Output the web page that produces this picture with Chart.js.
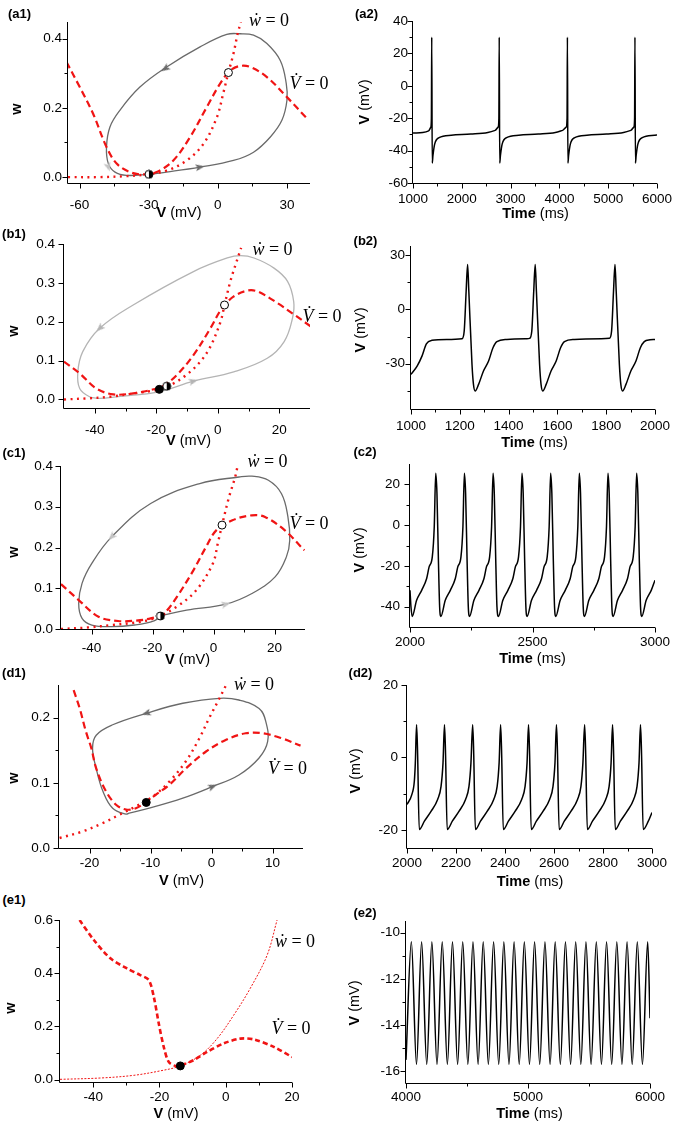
<!DOCTYPE html>
<html>
<head>
<meta charset="utf-8">
<script src="https://cdn.jsdelivr.net/npm/chart.js@4.4.0/dist/chart.umd.min.js"></script>
<style>
  body { margin: 0; background: #fff; }
  #fig { position: relative; width: 675px; height: 1125px; overflow: hidden; font-family: "Liberation Sans", Arial, sans-serif; }
  #fig canvas { position: absolute; }
  .t { position: absolute; white-space: nowrap; line-height: 1; color: #000; }
  .pl { font-size: 13px; font-weight: bold; }
  .ax { font-size: 14.5px; }
  .eq { font-family: "Liberation Serif", "DejaVu Serif", serif; font-size: 18px; }
</style>
</head>
<body>
<div id="fig"></div>
<script>
// ---------- data ----------

// (a1) phase plane
const a1CycV = [-29.9, -22.2, -7.7, 6.8, 15.5, 22.8, 27.8, 30.0, 29.7, 27.1, 21.3, 15.5, 9.7, 3.9, -7.7, -22.2, -33.8, -42.5, -46.8, -48.3, -47.5, -44.6, -39.6, -29.9];
const a1CycW = [0.008, 0.0145, 0.029, 0.048, 0.072, 0.116, 0.164, 0.222, 0.27, 0.337, 0.386, 0.41, 0.414, 0.412, 0.376, 0.318, 0.26, 0.193, 0.145, 0.087, 0.039, 0.0145, 0.005, 0.008];
const a1VnV = [-65.7, -59.9, -54.1, -48.3, -43.9, -38.1, -32.3, -26.5, -19.3, -12.0, -4.8, 1.0, 5.4, 9.7, 14.1, 21.3, 30.0, 38.7];
const a1VnW = [0.333, 0.26, 0.183, 0.087, 0.039, 0.0145, 0.0077, 0.0145, 0.048, 0.116, 0.202, 0.27, 0.308, 0.321, 0.318, 0.289, 0.231, 0.169];
const a1WnV = [-65, -51.2, -39.6, -30.9, -22.2, -13.5, -6.2, -0.4, 2.5, 4.6, 6.8, 8.6, 10.0];
const a1WnW = [0, 0, 0.003, 0.0077, 0.019, 0.048, 0.096, 0.173, 0.246, 0.302, 0.357, 0.414, 0.448];

// (a2) voltage trace
const a2T = [1000, 1200, 1320, 1365, 1377, 1384, 1394, 1409, 1444, 1534, 1784, 2184, 2534, 2684, 2744, 2760, 2767, 2777, 2792, 2827, 2917, 3167, 3567, 3917, 4067, 4139, 4157, 4164, 4174, 4189, 4224, 4314, 4564, 4964, 5314, 5464, 5525, 5541, 5548, 5558, 5573, 5608, 5698, 5948, 6000];
const a2V = [-29.2, -28.8, -27.8, -25.5, -20, 30, -47.7, -43, -36, -32, -30.5, -29.8, -28.8, -27.5, -25.5, -20, 30, -47.7, -43, -36, -32, -30.5, -29.8, -28.8, -27.5, -25.5, -20, 30, -47.7, -43, -36, -32, -30.5, -29.8, -28.8, -27.5, -25.5, -20, 30, -47.7, -43, -36, -32, -30.5, -30.3];

// (b1)
const b1CycV = [-38.4, -27.5, -18.8, -7.9, 5.2, 16.1, 21.6, 24.3, 24.7, 22.7, 18.3, 11.8, 7.4, 3.1, -7.9, -27.5, -38.4, -43.9, -45.5, -44.9, -41.7, -38.4];
const b1CycW = [0.0026, 0.011, 0.020, 0.047, 0.071, 0.106, 0.149, 0.209, 0.252, 0.304, 0.338, 0.364, 0.37, 0.364, 0.329, 0.243, 0.183, 0.123, 0.071, 0.028, 0.007, 0.0026];
const b1VnV = [-50, -44.9, -39.5, -34.0, -27.5, -22.0, -17.7, -13.3, -7.9, -2.4, 1.4, 5.2, 9.6, 12.9, 19.4, 24.9, 30.3];
const b1VnW = [0.097, 0.067, 0.028, 0.013, 0.0155, 0.024, 0.035, 0.063, 0.114, 0.183, 0.235, 0.265, 0.280, 0.278, 0.248, 0.218, 0.1875];
const b1WnV = [-50, -42.8, -35.1, -27.5, -19.0, -14.4, -10.0, -5.7, -2.4, 0.9, 2.2, 4.1, 5.8, 7.6];
const b1WnW = [0, 0.0026, 0.0069, 0.0155, 0.026, 0.041, 0.0645, 0.097, 0.136, 0.2, 0.243, 0.304, 0.347, 0.39];

// (b2)
const b2T = [1000, 1025, 1045, 1063, 1086, 1147, 1209, 1218, 1226, 1232, 1237, 1250, 1256, 1263, 1277, 1297, 1318, 1336, 1352, 1393, 1475, 1486, 1495, 1503, 1509, 1514, 1527, 1533, 1540, 1554, 1574, 1595, 1613, 1629, 1670, 1780, 1813, 1822, 1830, 1836, 1841, 1854, 1860, 1867, 1881, 1901, 1922, 1940, 1956, 1980, 2000];
const b2V = [-35.9, -31.3, -25.8, -19.0, -17.1, -16.6, -16.2, -12.0, 10, 24.8, 10, -30.4, -41.4, -45, -41.4, -34, -28.5, -21.2, -17.8, -16.6, -16.2, -16, -12, 10, 24.8, 10, -30.4, -41.4, -45, -41.4, -34, -28.5, -21.2, -17.8, -16.6, -16.2, -16, -12, 10, 24.8, 10, -30.4, -41.4, -45, -41.4, -34, -28.5, -21.2, -17.8, -16.8, -16.6];

// (c1)
const c1CycV = [-17.4, -8.8, 4.1, 12.6, 20.2, 23.9, 25.0, 24.4, 22.3, 18.0, 12.6, 8.4, -4.5, -20.6, -33.4, -39.9, -43.1, -44.2, -43.1, -39.9, -33.4, -25.9, -19.5, -17.4];
const c1CycW = [0.032, 0.0465, 0.061, 0.087, 0.128, 0.177, 0.218, 0.275, 0.332, 0.365, 0.375, 0.373, 0.357, 0.308, 0.226, 0.161, 0.112, 0.063, 0.026, 0.0098, 0.0057, 0.0098, 0.020, 0.032];
const c1VnV = [-50, -44.2, -37.7, -31.3, -25.9, -20.6, -16.3, -12.0, -6.6, -2.4, 0.9, 6.2, 12.6, 16.9, 23.4, 29.8];
const c1VnW = [0.11, 0.071, 0.030, 0.0196, 0.0204, 0.026, 0.038, 0.079, 0.144, 0.202, 0.242, 0.267, 0.279, 0.275, 0.242, 0.193];
const c1WnV = [-50, -40.9, -33.4, -25.9, -19.5, -12.0, -5.6, -0.2, 1.4, 2.8, 5.1, 7.1, 7.9];
const c1WnW = [0, 0.004, 0.0098, 0.0155, 0.026, 0.055, 0.0955, 0.161, 0.21, 0.255, 0.324, 0.373, 0.40];

// (c2)
const c2T = [2000, 2004,
  2009, 2027, 2048, 2068, 2078, 2091, 2099, 2105, 2110, 2116, 2121,
  2126, 2144, 2165, 2185, 2195, 2208, 2216, 2222, 2227, 2233, 2238,
  2243, 2261, 2282, 2302, 2312, 2325, 2333, 2339, 2344, 2350, 2355,
  2361, 2379, 2400, 2420, 2430, 2443, 2451, 2457, 2462, 2468, 2473,
  2478, 2496, 2517, 2537, 2547, 2560, 2568, 2574, 2579, 2585, 2590,
  2595, 2613, 2634, 2654, 2664, 2677, 2685, 2691, 2696, 2702, 2707,
  2712, 2730, 2751, 2771, 2781, 2794, 2802, 2808, 2813, 2819, 2824,
  2829, 2847, 2868, 2888, 2898, 2911, 2919, 2925, 2930, 2936, 2941,
  2946, 2964, 2985, 3000];
const c2V = [-32, -40.2,
  -44.8, -36.9, -31.9, -26.2, -20.5, -15.6, -0.8, 25.4, 15.6, -17.2, -40.2,
  -44.8, -36.9, -31.9, -26.2, -20.5, -15.6, -0.8, 25.4, 15.6, -17.2, -40.2,
  -44.8, -36.9, -31.9, -26.2, -20.5, -15.6, -0.8, 25.4, 15.6, -17.2, -40.2,
  -44.8, -36.9, -31.9, -26.2, -20.5, -15.6, -0.8, 25.4, 15.6, -17.2, -40.2,
  -44.8, -36.9, -31.9, -26.2, -20.5, -15.6, -0.8, 25.4, 15.6, -17.2, -40.2,
  -44.8, -36.9, -31.9, -26.2, -20.5, -15.6, -0.8, 25.4, 15.6, -17.2, -40.2,
  -44.8, -36.9, -31.9, -26.2, -20.5, -15.6, -0.8, 25.4, 15.6, -17.2, -40.2,
  -44.8, -36.9, -31.9, -26.2, -20.5, -15.6, -0.8, 25.4, 15.6, -17.2, -40.2,
  -44.8, -36.9, -31.9, -27];

// (d1)
const d1CycV = [-13.5, -10.2, -4.7, 0.2, 4.5, 7.8, 9.2, 8.9, 7.8, 4.5, 1.3, -4.7, -10.7, -16.2, -18.9, -19.5, -18.9, -17.8, -16.2, -14.0, -13.5];
const d1CycW = [0.0536, 0.0612, 0.0765, 0.0944, 0.112, 0.138, 0.163, 0.194, 0.214, 0.227, 0.2296, 0.222, 0.2066, 0.189, 0.173, 0.153, 0.122, 0.087, 0.061, 0.052, 0.0536];
const d1VnV = [-22.6, -21.6, -20.6, -19.7, -18.9, -17.3, -15.6, -14.0, -12.4, -10.7, -9.1, -6.9, -4.2, -0.9, 2.4, 5.6, 8.4, 11.6, 14.6];
const d1VnW = [0.242, 0.214, 0.179, 0.153, 0.122, 0.087, 0.066, 0.059, 0.061, 0.071, 0.082, 0.097, 0.122, 0.148, 0.166, 0.176, 0.176, 0.168, 0.157];
const d1WnV = [-24.9, -21.1, -17.8, -15.1, -12.4, -9.6, -6.9, -4.2, -2.0, -0.4, 1.0, 2.4];
const d1WnW = [0.0153, 0.0255, 0.0383, 0.051, 0.0638, 0.079, 0.102, 0.133, 0.168, 0.199, 0.224, 0.25];

// (d2)
const d2T = [2000, 2020, 2030, 2034,
  2039, 2043, 2050, 2071, 2098, 2125, 2139, 2147,
  2153, 2157, 2164, 2185, 2212, 2239, 2253, 2261,
  2268, 2272, 2279, 2300, 2327, 2354, 2368, 2376,
  2382, 2386, 2393, 2414, 2441, 2468, 2482, 2490,
  2496, 2500, 2507, 2528, 2555, 2582, 2596, 2604,
  2610, 2614, 2621, 2642, 2669, 2696, 2710, 2718,
  2725, 2729, 2736, 2757, 2784, 2811, 2825, 2833,
  2839, 2843, 2850, 2871, 2898, 2925, 2939, 2947,
  2953, 2957, 2964, 2985, 3000];
const d2V = [-13, -10.2, -6.5, -1.5,
  9, 2, -19.9, -17.6, -14.9, -11.6, -8.0, -1.5,
  9, 2, -19.9, -17.6, -14.9, -11.6, -8.0, -1.5,
  9, 2, -19.9, -17.6, -14.9, -11.6, -8.0, -1.5,
  9, 2, -19.9, -17.6, -14.9, -11.6, -8.0, -1.5,
  9, 2, -19.9, -17.6, -14.9, -11.6, -8.0, -1.5,
  9, 2, -19.9, -17.6, -14.9, -11.6, -8.0, -1.5,
  9, 2, -19.9, -17.6, -14.9, -11.6, -8.0, -1.5,
  9, 2, -19.9, -17.6, -14.9, -11.6, -8.0, -1.5,
  9, 2, -19.9, -17.6, -15.2];

// (e1)
const e1VnV = [-44.1, -39.8, -34.8, -29.8, -25.8, -23.2, -21.7, -20.2, -18.7, -17.2, -15.2, -13.2, -9.7, -5.6, -0.6, 4.4, 8.5, 14.5, 20.0];
const e1VnW = [0.6, 0.525, 0.456, 0.418, 0.393, 0.374, 0.311, 0.211, 0.123, 0.0665, 0.0515, 0.055, 0.073, 0.104, 0.136, 0.154, 0.151, 0.123, 0.085];
const e1WnV = [-50, -37.8, -27.8, -19.7, -13.7, -7.6, -2.6, 2.4, 7.4, 12.5, 15.5];
const e1WnW = [0.001, 0.006, 0.016, 0.033, 0.0515, 0.092, 0.154, 0.242, 0.343, 0.468, 0.6];

// (e2)
const e2T = [4000, 4044, 4086, 4128, 4170, 4212, 4254, 4297, 4339, 4381, 4423, 4465, 4507, 4549, 4591, 4633, 4675, 4718, 4760, 4802, 4844, 4886, 4928, 4970, 5012, 5054, 5096, 5139, 5181, 5223, 5265, 5307, 5349, 5391, 5433, 5475, 5517, 5560, 5602, 5644, 5686, 5728, 5770, 5812, 5854, 5896, 5938, 5981, 6000];
const e2V = [-15.5, -10.4, -15.7, -10.4, -15.7, -10.4, -15.7, -10.4, -15.7, -10.4, -15.7, -10.4, -15.7, -10.4, -15.7, -10.4, -15.7, -10.4, -15.7, -10.4, -15.7, -10.4, -15.7, -10.4, -15.7, -10.4, -15.7, -10.4, -15.7, -10.4, -15.7, -10.4, -15.7, -10.4, -15.7, -10.4, -15.7, -10.4, -15.7, -10.4, -15.7, -10.4, -15.7, -10.4, -15.7, -10.4, -15.7, -10.4, -13.7];

// fixed points and flow arrows
const a1HalfV = [-29.9], a1HalfW = [0.008], a1OpenV = [4.6], a1OpenW = [0.302];
const a1ArrV = [-22.9, -7.7], a1ArrW = [0.313, 0.029], a1ArrRot = [236, 80];
const a1ArrLV = [-47.5], a1ArrLW = [0.029], a1ArrLRot = [162];
const b1FullV = [-19.0], b1FullW = [0.026], b1HalfV = [-16.6], b1HalfW = [0.034], b1OpenV = [2.2], b1OpenW = [0.243];
const b1ArrV = [-38.4, -7.9], b1ArrW = [0.183, 0.047], b1ArrRot = [227, 75];
const c1HalfV = [-17.4], c1HalfW = [0.032], c1OpenV = [2.8], c1OpenW = [0.255];
const c1ArrV = [-33.4, 4.1], c1ArrW = [0.226, 0.061], c1ArrRot = [225, 76];
const d1FullV = [-10.7], d1FullW = [0.0699];
const d1ArrV = [-10.7, 0.2], d1ArrW = [0.2066, 0.0944], d1ArrRot = [253, 68];
const e1FullV = [-13.7], e1FullW = [0.0515];

// axis ticks
const a1XTicks = [-60, -30, 0, 30], a1XMinor = [-45, -15, 15], a1YTicks = [0, 0.2, 0.4], a1YMinor = [0.1, 0.3];
const a2XTicks = [1000, 2000, 3000, 4000, 5000, 6000], a2XMinor = [1500, 2500, 3500, 4500, 5500];
const a2YTicks = [-60, -40, -20, 0, 20, 40], a2YMinor = [-50, -30, -10, 10, 30];
const b1XTicks = [-40, -20, 0, 20], b1XMinor = [-30, -10, 10], b1YTicks = [0, 0.1, 0.2, 0.3, 0.4], b1YMinor = [];
const b2XTicks = [1000, 1200, 1400, 1600, 1800, 2000], b2XMinor = [1100, 1300, 1500, 1700, 1900];
const b2YTicks = [-30, 0, 30], b2YMinor = [-45, -15, 15];
const c1XTicks = [-40, -20, 0, 20], c1XMinor = [-30, -10, 10], c1YTicks = [0, 0.1, 0.2, 0.3, 0.4], c1YMinor = [];
const c2XTicks = [2000, 2500, 3000], c2XMinor = [2250, 2750], c2YTicks = [-40, -20, 0, 20], c2YMinor = [-30, -10, 10];
const d1XTicks = [-20, -10, 0, 10], d1XMinor = [-15, -5, 5], d1YTicks = [0, 0.1, 0.2], d1YMinor = [0.05, 0.15];
const d2XTicks = [2000, 2200, 2400, 2600, 2800, 3000], d2XMinor = [2100, 2300, 2500, 2700, 2900];
const d2YTicks = [-20, 0, 20], d2YMinor = [-10, 10];
const e1XTicks = [-40, -20, 0, 20], e1XMinor = [-30, -10, 10], e1YTicks = [0, 0.2, 0.4, 0.6], e1YMinor = [0.1, 0.3, 0.5];
const e2XTicks = [4000, 5000, 6000], e2XMinor = [4500, 5500], e2YTicks = [-16, -14, -12, -10], e2YMinor = [-15, -13, -11];

// ---------- drawing ----------
const FONT = "'Liberation Sans', Arial, sans-serif";
const RED = '#f01414';
const DARK = '#6a6a6a', LIGHT = '#b4b4b4', PALE = '#c4c4c4';
const fig = document.getElementById('fig');

const pts = (xs, ys) => xs.map((x, i) => ({ x, y: ys[i] }));

function arrowImg(color) {
  const c = document.createElement('canvas');
  c.width = 7; c.height = 9;
  const g = c.getContext('2d');
  g.fillStyle = color;
  g.beginPath(); g.moveTo(3.5, 0); g.lineTo(7, 9); g.lineTo(3.5, 7); g.lineTo(0, 9); g.closePath(); g.fill();
  return c;
}
function halfDot() {
  const c = document.createElement('canvas');
  c.width = 10; c.height = 10;
  const g = c.getContext('2d');
  g.fillStyle = '#fff'; g.beginPath(); g.arc(5, 5, 4, 0, 2 * Math.PI); g.fill();
  g.fillStyle = '#000'; g.beginPath(); g.arc(5, 5, 4, -Math.PI / 2, Math.PI / 2); g.fill();
  g.strokeStyle = '#000'; g.lineWidth = 1; g.beginPath(); g.arc(5, 5, 4, 0, 2 * Math.PI); g.stroke();
  return c;
}

function curve(xs, ys, color, width, dash, tension) {
  return { data: pts(xs, ys), showLine: true, borderColor: color, borderWidth: width, borderDash: dash,
    pointRadius: 0, tension: tension };
}
const cycle = (xs, ys, color) => curve(xs, ys, color, 1.3, [], 0.4);
const vNull = (xs, ys) => curve(xs, ys, RED, 2.2, [7, 4], 0.35);
const wNull = (xs, ys) => curve(xs, ys, RED, 2.4, [2, 4.5], 0.35);
function trace(xs, ys) {
  return { data: pts(xs, ys), showLine: true, borderColor: '#000', borderWidth: 1.5, pointRadius: 0,
    cubicInterpolationMode: 'monotone' };
}
function dots(xs, ys, fill) {
  return { data: pts(xs, ys), showLine: false, pointRadius: 4, pointStyle: 'circle',
    pointBackgroundColor: fill, pointBorderColor: '#000', pointBorderWidth: 1 };
}
function halfDots(xs, ys) {
  return { data: pts(xs, ys), showLine: false, pointRadius: 4, pointStyle: halfDot() };
}
function arrows(xs, ys, rot, color) {
  return { data: pts(xs, ys), showLine: false, pointRadius: 4, pointStyle: arrowImg(color), pointRotation: rot };
}

function axisOpts(min, max, ticks, dec, pad, horiz, size) {
  return {
    type: 'linear', min, max,
    grid: { display: false, drawTicks: false }, border: { display: false },
    afterBuildTicks: s => { s.ticks = ticks.map(v => ({ value: v })); },
    afterFit: s => {
      if (horiz) s.height = size; else s.width = size;
      s.paddingLeft = s.paddingRight = s.paddingTop = s.paddingBottom = 0;
    },
    ticks: { padding: pad, color: '#000', font: { family: FONT, size: 13.5 }, maxRotation: 0, autoSkip: false,
      callback: v => v.toFixed(dec) }
  };
}

// left + bottom axis lines with outward major/minor ticks
function frame(p) {
  return {
    id: 'frame',
    afterDraw(chart) {
      const { ctx, chartArea: a, scales: { x, y } } = chart;
      const l = a.left - 0.5, b = a.bottom + 0.5;
      ctx.save();
      ctx.strokeStyle = '#000'; ctx.lineWidth = 1;
      ctx.beginPath();
      ctx.moveTo(l, a.top); ctx.lineTo(l, b); ctx.lineTo(a.right, b);
      const tick = (vals, len, horiz) => vals.forEach(v => {
        if (horiz) { const px = Math.round(x.getPixelForValue(v)) + 0.5; ctx.moveTo(px, b); ctx.lineTo(px, b + len); }
        else { const py = Math.round(y.getPixelForValue(v)) + 0.5; ctx.moveTo(l, py); ctx.lineTo(l - len, py); }
      });
      tick(p.xTicks, 5, true); tick(p.xMinor, 3, true);
      tick(p.yTicks, 5, false); tick(p.yMinor, 3, false);
      ctx.stroke();
      ctx.restore();
    }
  };
}

function panel(p) {
  const yw = 50, xh = 30, pt = 10, pr = 18;
  const w = p.R - p.L + yw + pr, h = p.B - p.T + pt + xh;
  const cv = document.createElement('canvas');
  cv.width = w; cv.height = h;
  cv.style.left = (p.L - yw) + 'px'; cv.style.top = (p.T - pt) + 'px';
  cv.style.width = w + 'px'; cv.style.height = h + 'px';
  fig.appendChild(cv);
  new Chart(cv, {
    type: 'scatter',
    data: { datasets: p.sets },
    options: {
      responsive: false, animation: false, devicePixelRatio: 1, events: [],
      layout: { padding: { left: 0, top: pt, right: pr, bottom: 0 } },
      plugins: { legend: { display: false }, tooltip: { enabled: false } },
      scales: {
        x: axisOpts(p.xMin, p.xMax, p.xTicks, p.xDec, p.xPad, true, xh),
        y: axisOpts(p.yMin, p.yMax, p.yTicks, p.yDec, p.yPad, false, yw)
      }
    },
    plugins: [frame(p)]
  });
}

// ---- left column: phase planes ----
panel({ L: 68, T: 22, R: 310, B: 183, xMin: -65, xMax: 40, yMin: -0.017, yMax: 0.448,
  xTicks: a1XTicks, xMinor: a1XMinor, yTicks: a1YTicks, yMinor: a1YMinor, xDec: 0, yDec: 1, xPad: 14, yPad: 6,
  sets: [halfDots(a1HalfV, a1HalfW), dots(a1OpenV, a1OpenW, '#fff'),
    arrows(a1ArrV, a1ArrW, a1ArrRot, DARK), arrows(a1ArrLV, a1ArrLW, a1ArrLRot, PALE),
    vNull(a1VnV, a1VnW), wNull(a1WnV, a1WnW), cycle(a1CycV, a1CycW, DARK)] });

panel({ L: 64, T: 244, R: 310, B: 408, xMin: -50, xMax: 30, yMin: -0.022, yMax: 0.4,
  xTicks: b1XTicks, xMinor: b1XMinor, yTicks: b1YTicks, yMinor: b1YMinor, xDec: 0, yDec: 1, xPad: 14, yPad: 9,
  sets: [dots(b1FullV, b1FullW, '#000'), halfDots(b1HalfV, b1HalfW), dots(b1OpenV, b1OpenW, '#fff'),
    arrows(b1ArrV, b1ArrW, b1ArrRot, LIGHT),
    vNull(b1VnV, b1VnW), wNull(b1WnV, b1WnW), cycle(b1CycV, b1CycW, LIGHT)] });

panel({ L: 61, T: 466, R: 305, B: 629, xMin: -50, xMax: 30, yMin: 0, yMax: 0.4,
  xTicks: c1XTicks, xMinor: c1XMinor, yTicks: c1YTicks, yMinor: c1YMinor, xDec: 0, yDec: 1, xPad: 11, yPad: 8,
  sets: [halfDots(c1HalfV, c1HalfW), dots(c1OpenV, c1OpenW, '#fff'),
    arrows(c1ArrV, c1ArrW, c1ArrRot, PALE),
    vNull(c1VnV, c1VnW), wNull(c1WnV, c1WnW), cycle(c1CycV, c1CycW, DARK)] });

panel({ L: 59, T: 685, R: 303, B: 848, xMin: -25, xMax: 15, yMin: 0, yMax: 0.25,
  xTicks: d1XTicks, xMinor: d1XMinor, yTicks: d1YTicks, yMinor: d1YMinor, xDec: 0, yDec: 1, xPad: 7, yPad: 9,
  sets: [dots(d1FullV, d1FullW, '#000'), arrows(d1ArrV, d1ArrW, d1ArrRot, DARK),
    vNull(d1VnV, d1VnW), wNull(d1WnV, d1WnW), cycle(d1CycV, d1CycW, DARK)] });

panel({ L: 60, T: 920, R: 292, B: 1082, xMin: -50, xMax: 20, yMin: -0.009, yMax: 0.6,
  xTicks: e1XTicks, xMinor: e1XMinor, yTicks: e1YTicks, yMinor: e1YMinor, xDec: 0, yDec: 1, xPad: 7, yPad: 7,
  sets: [dots(e1FullV, e1FullW, '#000'),
    curve(e1VnV, e1VnW, RED, 2.6, [5, 3], 0.3), curve(e1WnV, e1WnW, RED, 1, [2, 1.5], 0.35)] });

// ---- right column: voltage traces ----
panel({ L: 413, T: 21, R: 657, B: 183, xMin: 1000, xMax: 6000, yMin: -60, yMax: 40,
  xTicks: a2XTicks, xMinor: a2XMinor, yTicks: a2YTicks, yMinor: a2YMinor, xDec: 0, yDec: 0, xPad: 8, yPad: 5,
  sets: [trace(a2T, a2V)] });
panel({ L: 411, T: 246, R: 655, B: 409, xMin: 1000, xMax: 2000, yMin: -55, yMax: 35,
  xTicks: b2XTicks, xMinor: b2XMinor, yTicks: b2YTicks, yMinor: b2YMinor, xDec: 0, yDec: 0, xPad: 9, yPad: 6,
  sets: [trace(b2T, b2V)] });
panel({ L: 410, T: 464, R: 655, B: 627, xMin: 2000, xMax: 3000, yMin: -50, yMax: 30,
  xTicks: c2XTicks, xMinor: c2XMinor, yTicks: c2YTicks, yMinor: c2YMinor, xDec: 0, yDec: 0, xPad: 7, yPad: 10,
  sets: [trace(c2T, c2V)] });
panel({ L: 407, T: 685, R: 652, B: 848, xMin: 2000, xMax: 3000, yMin: -25, yMax: 20,
  xTicks: d2XTicks, xMinor: d2XMinor, yTicks: d2YTicks, yMinor: d2YMinor, xDec: 0, yDec: 0, xPad: 7, yPad: 9,
  sets: [trace(d2T, d2V)] });
panel({ L: 406, T: 921, R: 650, B: 1083, xMin: 4000, xMax: 6000, yMin: -16.5, yMax: -9.5,
  xTicks: e2XTicks, xMinor: e2XMinor, yTicks: e2YTicks, yMinor: e2YMinor, xDec: 0, yDec: 0, xPad: 6, yPad: 6,
  sets: [trace(e2T, e2V)] });

// ---------- text: panel tags, axis titles, nullcline labels ----------
function txt(html, cx, cy, cls, rot) {
  const d = document.createElement('div');
  d.className = 't ' + cls;
  d.innerHTML = html;
  d.style.left = cx + 'px'; d.style.top = cy + 'px';
  d.style.transform = 'translate(-50%, -50%)' + (rot ? ' rotate(-90deg)' : '');
  fig.appendChild(d);
}
const VMV = '<b>V</b> (mV)', TMS = '<b>Time</b> (ms)';
const WDOT = '<i>ẇ</i> = 0', VDOT = '<i>V&#775;</i> = 0';

[['(a1)', 19.5, 13], ['(a2)', 366.5, 13], ['(b1)', 14, 232.5], ['(b2)', 365.5, 240], ['(c1)', 14, 452],
 ['(c2)', 365, 451], ['(d1)', 14, 672], ['(d2)', 360.5, 672], ['(e1)', 14, 899], ['(e2)', 365, 912]]
  .forEach(([s, x, y]) => txt(s, x, y, 'pl'));

[[179, 212], [188.5, 440], [187.5, 659], [181.5, 880], [176, 1113]].forEach(([x, y]) => txt(VMV, x, y, 'ax'));
[[535.5, 213], [534.5, 442], [532.5, 658], [530, 881], [529.5, 1113]].forEach(([x, y]) => txt(TMS, x, y, 'ax'));
[[16, 109], [13, 331], [13, 552], [13, 778], [10, 1008]].forEach(([x, y]) => txt('<b>w</b>', x, y, 'ax', true));
[[364, 102], [360, 330], [358.5, 550], [355, 771], [353.5, 1003]].forEach(([x, y]) => txt(VMV, x, y, 'ax', true));

[[269, 20], [272.5, 249], [267.5, 461], [254, 684], [295, 941]].forEach(([x, y]) => txt(WDOT, x, y, 'eq'));
[[309, 83], [322, 316], [309, 522.5], [287.5, 767.5], [291, 1027.5]].forEach(([x, y]) => txt(VDOT, x, y, 'eq'));
</script>
</body>
</html>
